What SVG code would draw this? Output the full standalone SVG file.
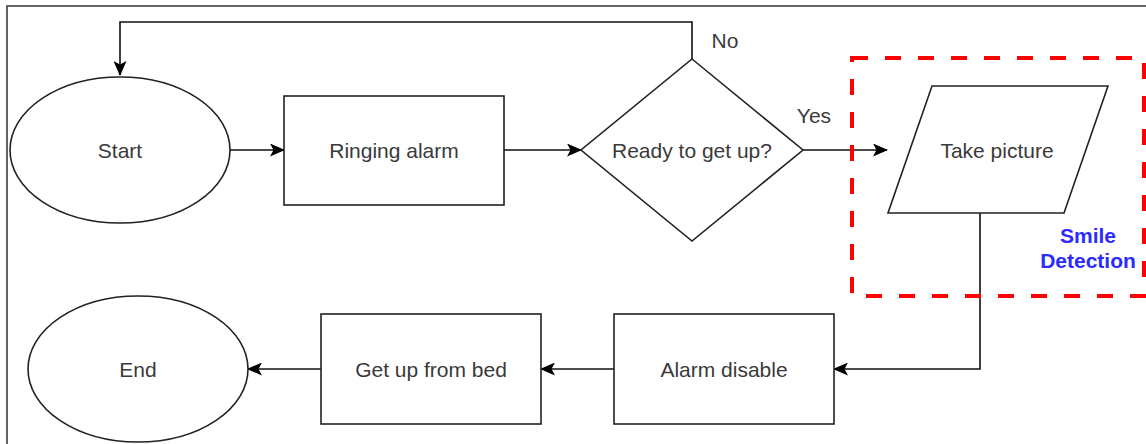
<svg xmlns="http://www.w3.org/2000/svg" width="1146" height="444" viewBox="0 0 1146 444">
<defs>
<style>
.shape{fill:#fff;stroke:#222;stroke-width:1.6}
.edge{fill:none;stroke:#111;stroke-width:1.6}
.lbl{font-family:"Liberation Sans",Arial,sans-serif;font-size:21px;fill:#3a3a3a;text-anchor:middle}
.blue{font-family:"Liberation Sans",Arial,sans-serif;font-size:21px;font-weight:bold;fill:#2b2bff;text-anchor:middle}
</style>
<marker id="arr" markerUnits="userSpaceOnUse" markerWidth="15" markerHeight="13" viewBox="0 0 15 13" refX="14" refY="6.5" orient="auto">
<path d="M0,0 L15,6.5 L0,13 L3.5,6.5 z" fill="#000"/>
</marker>
</defs>
<rect x="0" y="0" width="1146" height="444" fill="#fff"/>
<path d="M7,444 V6 H1146" fill="none" stroke="#333" stroke-width="1.5"/>

<g id="connectors">
<path class="edge" d="M692,59 V22 H120 V75" marker-end="url(#arr)"/>
<path class="edge" d="M230,150 H284" marker-end="url(#arr)"/>
<path class="edge" d="M504,150 H581" marker-end="url(#arr)"/>
<path class="edge" d="M803,150 H887" marker-end="url(#arr)"/>
<path class="edge" d="M980,213 V369 H834" marker-end="url(#arr)"/>
<path class="edge" d="M614,369 H541" marker-end="url(#arr)"/>
<path class="edge" d="M321,369 H248" marker-end="url(#arr)"/>
<text class="lbl" x="725" y="48">No</text>
<text class="lbl" x="814" y="123">Yes</text>
</g>

<g id="smile-detection">
<rect x="852" y="58" width="292" height="238" fill="none" stroke="#f00" stroke-width="4" stroke-dasharray="16 17"/>
<text class="blue" x="1088" y="243">Smile</text>
<text class="blue" x="1088" y="268">Detection</text>
</g>

<g id="start">
<ellipse class="shape" cx="120" cy="150" rx="110" ry="73"/>
<text class="lbl" x="120" y="158">Start</text>
</g>
<g id="ringing-alarm">
<rect class="shape" x="284" y="96" width="220" height="109"/>
<text class="lbl" x="394" y="158">Ringing alarm</text>
</g>
<g id="ready">
<polygon class="shape" points="692,59 803,150 692,241 581,150"/>
<text class="lbl" x="692" y="158">Ready to get up?</text>
</g>
<g id="take-picture">
<polygon class="shape" points="932,86 1108,86 1064,213 888,213"/>
<text class="lbl" x="997" y="158">Take picture</text>
</g>
<g id="alarm-disable">
<rect class="shape" x="614" y="314" width="220" height="110"/>
<text class="lbl" x="724" y="377">Alarm disable</text>
</g>
<g id="get-up">
<rect class="shape" x="321" y="314" width="220" height="110"/>
<text class="lbl" x="431" y="377">Get up from bed</text>
</g>
<g id="end">
<ellipse class="shape" cx="138" cy="369" rx="110" ry="73"/>
<text class="lbl" x="138" y="377">End</text>
</g>
</svg>
